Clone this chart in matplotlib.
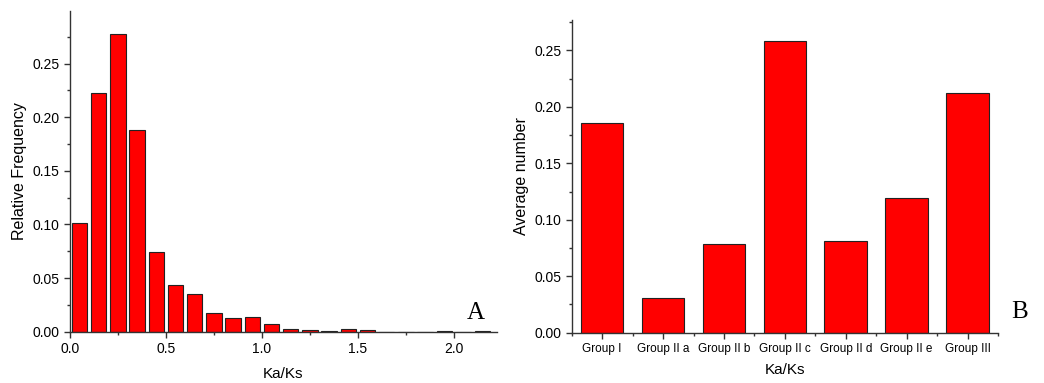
import matplotlib.pyplot as plt
from matplotlib.ticker import MultipleLocator, FixedLocator
import numpy as np

plt.rcParams['font.family'] = ['Liberation Sans', 'DejaVu Sans']

# panel A: histogram of Ka/Ks (bin centres, width 0.1)
bin_centres = [0.05, 0.15, 0.25, 0.35, 0.45, 0.55, 0.65, 0.75, 0.85, 0.95, 1.05,
               1.15, 1.25, 1.35, 1.45, 1.55, 1.65, 1.75, 1.85, 1.95, 2.05, 2.15]
rel_freq = [0.101, 0.223, 0.278, 0.188, 0.074, 0.044, 0.035, 0.017, 0.013, 0.0137,
            0.0069, 0.0028, 0.0015, 0.0005, 0.0022, 0.002, 0.0, 0.0, 0.0, 0.0005,
            0.0, 0.0005]

# panel B: average Ka/Ks per group
groups = ['Group I', 'Group II a', 'Group II b', 'Group II c', 'Group II d',
          'Group II e', 'Group III']
avg_number = [0.1855, 0.031, 0.079, 0.258, 0.0808, 0.1197, 0.2123]

W, H = 1044, 383
fig = plt.figure(figsize=(W / 100, H / 100), dpi=100)
axA = fig.add_axes([70 / W, 1 - 331.7 / H, 427 / W, 320.7 / H])
axB = fig.add_axes([571.7 / W, 1 - 332.7 / H, 426.3 / W, 312.7 / H])

bar_kw = dict(color='#ff0000', edgecolor='#222222', linewidth=0.8)
axA.bar(bin_centres, rel_freq, width=0.08, **bar_kw)
x = np.arange(1, len(groups) + 1)
axB.bar(x, avg_number, width=0.7, **bar_kw)

for ax in (axA, axB):
    for s in ('top', 'right'):
        ax.spines[s].set_visible(False)
    for s in ('left', 'bottom'):
        ax.spines[s].set_color('#333333')
        ax.spines[s].set_linewidth(1.0)
    ax.tick_params(which='both', direction='out', color='#333333', width=1.0)
    ax.tick_params(which='major', length=4.5, labelsize=10, pad=3)
    ax.tick_params(which='minor', length=2.5)
    ax.yaxis.set_major_locator(MultipleLocator(0.05))
    ax.yaxis.set_minor_locator(MultipleLocator(0.025))
    ax.yaxis.set_major_formatter(plt.FormatStrFormatter('%.2f'))

axA.set_xlim(0, 2.225)
axA.set_ylim(0, 0.299)
axA.xaxis.set_major_locator(MultipleLocator(0.5))
axA.xaxis.set_minor_locator(MultipleLocator(0.25))
axA.xaxis.set_major_formatter(plt.FormatStrFormatter('%.1f'))
axA.set_xlabel('Ka/Ks', fontsize=11, labelpad=8)
axA.set_ylabel('Relative Frequency', fontsize=11.5, labelpad=4)
axA.text(476, H - 313, 'A', transform=None, fontsize=18,
         family='Liberation Serif', ha='center', va='center')

axB.set_xlim(0.5, len(groups) + 0.5)
axB.set_ylim(0, 0.277)
axB.set_xticks(x)
axB.set_xticklabels(groups, fontsize=8.5)
axB.xaxis.set_minor_locator(FixedLocator(np.arange(0.5, len(groups) + 1, 1.0)))
axB.set_xlabel('Ka/Ks', fontsize=11, labelpad=6)
axB.set_ylabel('Average number', fontsize=11.5, labelpad=4)
axB.text(1020, H - 312, 'B', transform=None, fontsize=18,
         family='Liberation Serif', ha='center', va='center')

fig.savefig('out.png', dpi=100)
